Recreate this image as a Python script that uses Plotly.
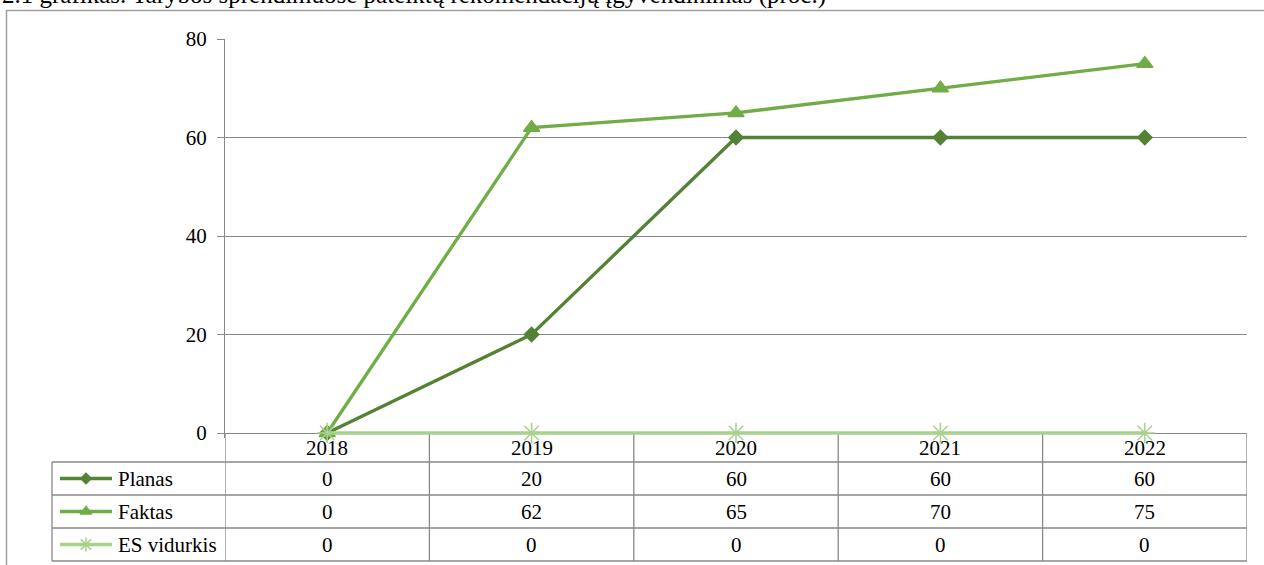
import plotly.graph_objects as go

# ---------------- data ----------------
categories = ["2018", "2019", "2020", "2021", "2022"]
series_names = ["Planas", "Faktas", "ES vidurkis"]
planas = [0, 20, 60, 60, 60]
faktas = [0, 62, 65, 70, 75]
es_vidurkis = [0, 0, 0, 0, 0]
y_ticks = [0, 20, 40, 60, 80]
title_text = "2.1 grafikas. Tarybos sprendimuose pateiktų rekomendacijų įgyvendinimas (proc.)"

# ---------------- layout constants (pixels) ----------------
W, H = 1264, 565
PL, PR, PT, PB = 225, 1247, 39, 433
Y_MIN_PAD = 1.0  # extra data units below 0 so the zero-value line is not clipped
TABLE_L = 52
ROW_LINES = [462, 495, 528, 561]
HEADER_C = 448
ROW_H = 33
GRID = "#888888"
FONT = "Liberation Serif"
FS = 21

colors = ["#548235", "#70ad47", "#a9d18e"]
symbols = ["diamond", "triangle-up", "asterisk-open"]
msizes = [11, 14, 17]
lsizes = [8, 10, 12]
values = [planas, faktas, es_vidurkis]


def px(x):
    return x / W


def py(y):
    return 1 - y / H


unit_px = (PB - PT) / 80.0
plot_bottom = PB + Y_MIN_PAD * unit_px

fig = go.Figure()
xs = list(range(len(categories)))

for name, vals, col, sym, ms in zip(series_names, values, colors, symbols, msizes):
    fig.add_trace(go.Scatter(
        x=xs, y=vals, name=name, mode="lines+markers",
        line=dict(color=col, width=3.3),
        marker=dict(symbol=sym, size=ms, color=col,
                    line=dict(color=col, width=1.5)),
        cliponaxis=False, showlegend=False,
        xaxis="x", yaxis="y",
    ))

# legend sample markers in table (full-page pixel axis)
for i, (col, sym, ls) in enumerate(zip(colors, symbols, lsizes)):
    yc = ROW_LINES[0] + ROW_H * i + ROW_H / 2
    fig.add_trace(go.Scatter(
        x=[86], y=[yc], mode="markers",
        marker=dict(symbol=sym, size=ls, color=col, line=dict(color=col, width=1.5)),
        showlegend=False, xaxis="x2", yaxis="y2", hoverinfo="skip", cliponaxis=False,
    ))

shapes = []
# outer frame
shapes.append(dict(type="line", xref="paper", yref="paper", x0=px(6), x1=px(W), y0=py(10.5), y1=py(10.5),
                   line=dict(color="#a0a0a0", width=1.5)))
shapes.append(dict(type="line", xref="paper", yref="paper", x0=px(6.5), x1=px(6.5), y0=py(10.5), y1=py(H),
                   line=dict(color="#a0a0a0", width=1.5)))
# table horizontal lines
for yl in ROW_LINES:
    shapes.append(dict(type="line", xref="paper", yref="paper", x0=px(TABLE_L), x1=px(PR), y0=py(yl), y1=py(yl),
                       line=dict(color=GRID, width=1.3)))
# table left border
shapes.append(dict(type="line", xref="paper", yref="paper", x0=px(TABLE_L), x1=px(TABLE_L),
                   y0=py(ROW_LINES[0]), y1=py(ROW_LINES[-1]), line=dict(color=GRID, width=1.3)))
# table column lines (category boundaries)
for k in range(len(categories) + 1):
    shapes.append(dict(type="line", xref="x", yref="paper", x0=k - 0.5, x1=k - 0.5,
                       y0=py(PB), y1=py(ROW_LINES[-1]), line=dict(color=GRID, width=1.3),
                       layer="below"))
# legend sample lines
for i, col in enumerate(colors):
    yc = ROW_LINES[0] + ROW_H * i + ROW_H / 2
    shapes.append(dict(type="line", xref="paper", yref="paper", x0=px(60), x1=px(112),
                       y0=py(yc), y1=py(yc), line=dict(color=col, width=3.5), layer="below"))

ann = []
ann.append(dict(text=title_text, x=px(0), y=py(11), xref="paper", yref="paper",
                xanchor="left", yanchor="bottom", showarrow=False,
                font=dict(family=FONT, size=25, color="black")))
for j, c in enumerate(categories):
    ann.append(dict(text=c, x=j, y=py(HEADER_C), xref="x", yref="paper",
                    xanchor="center", yanchor="middle", showarrow=False,
                    font=dict(family=FONT, size=FS, color="black")))
for i, (name, vals) in enumerate(zip(series_names, values)):
    yc = ROW_LINES[0] + ROW_H * i + ROW_H / 2
    ann.append(dict(text=name, x=px(116), y=py(yc), xref="paper", yref="paper",
                    xanchor="left", yanchor="middle", showarrow=False,
                    font=dict(family=FONT, size=FS, color="black")))
    for j, v in enumerate(vals):
        ann.append(dict(text=str(v), x=j, y=py(yc), xref="x", yref="paper",
                        xanchor="center", yanchor="middle", showarrow=False,
                        font=dict(family=FONT, size=FS, color="black")))

fig.update_layout(
    width=W, height=H,
    margin=dict(l=0, r=0, t=0, b=0, autoexpand=False),
    paper_bgcolor="white", plot_bgcolor="rgba(0,0,0,0)",
    shapes=shapes, annotations=ann,
    xaxis=dict(domain=[px(PL), px(PR)], range=[-0.5, len(categories) - 0.5], automargin=False,
               showticklabels=False, showgrid=False, zeroline=False, showline=False, fixedrange=True),
    yaxis=dict(domain=[py(plot_bottom), py(PT)], range=[-Y_MIN_PAD, 80], tickvals=y_ticks, automargin=False,
               showgrid=True, gridcolor=GRID, gridwidth=1, zeroline=False,
               showline=True, linecolor=GRID, linewidth=1.3,
               ticks="outside", ticklen=7, tickcolor=GRID, tickwidth=1,
               ticklabelstandoff=6, fixedrange=True,
               tickfont=dict(family=FONT, size=FS, color="black")),
    xaxis2=dict(domain=[0, 1], range=[0, W], visible=False, anchor="y2", fixedrange=True, automargin=False),
    yaxis2=dict(domain=[0, 1], range=[H, 0], visible=False, anchor="x2", fixedrange=True, automargin=False),
    showlegend=False,
)

fig.write_html("out.html", config={"displayModeBar": False},
               post_script="document.body.style.margin='0';")
